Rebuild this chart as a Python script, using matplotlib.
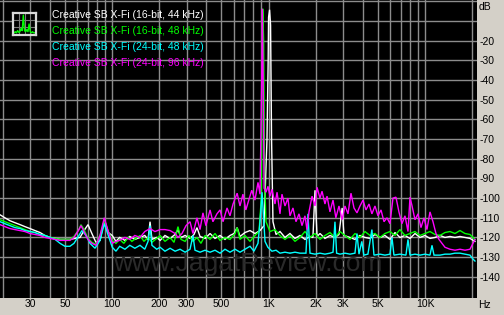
import matplotlib
matplotlib.use("Agg")
import matplotlib.pyplot as plt

# ---------------- data ----------------
series_labels = ["Creative SB X-Fi (16-bit, 44 kHz)",
                 "Creative SB X-Fi (16-bit, 48 kHz)",
                 "Creative SB X-Fi (24-bit, 48 kHz)",
                 "Creative SB X-Fi (24-bit, 96 kHz)"]
series_colors = ["#ffffff", "#00ff00", "#00ffff", "#ff00ff"]

white_f = [19.3, 20.7, 22.3, 24.0, 25.9, 27.8, 30.0, 32.2, 34.7, 37.3, 40.2, 43.3, 46.6, 50.1, 53.9, 58.1,
           62.5, 66.3, 70.3, 74.4, 79.0, 83.9, 89.3, 94.7, 100.4, 106, 112, 121, 130, 140, 151, 162, 170,
           175, 180, 193, 203, 218, 235, 253, 264, 276, 293, 315, 334, 349, 365, 393, 423, 455, 490, 527,
           567, 602, 630, 657, 707, 761, 819, 882, 935, 977, 994, 1000, 1015, 1030, 1045, 1067, 1116, 1183,
           1273, 1370, 1475, 1587, 1708, 1839, 1920, 1979, 2040, 2130, 2292, 2467, 2655, 2816, 2950, 3030,
           3311, 3563, 3835, 4128, 4443, 4782, 5147, 5539, 5962, 6417, 6906, 7433, 8000, 8611, 9268, 9975,
           10736, 11555, 12437, 13386, 14407, 15506, 16689, 17963, 19333, 20808]
white_db = [-108.5, -110, -111.5, -112.5, -113.5, -114.5, -115.5, -116.5, -117.5, -119, -120, -120.5, -121,
            -121, -121, -120.5, -120, -116.5, -113.5, -118, -122.5, -121.5, -111, -117.5, -119, -122, -120,
            -121.5, -119.5, -121, -120, -119, -121, -112, -121, -120, -121.5, -119, -120.5, -118.5, -116,
            -120, -119, -120.5, -118.5, -115, -119.5, -120.5, -118, -120.5, -119, -121, -119, -118, -115,
            -119.5, -117.5, -116.5, -118, -116.5, -114, -70, -30, -8, -4.2, -12, -70, -112, -118.5, -117,
            -120, -118, -120.5, -119, -121, -119.5, -120, -96, -119.5, -118, -120.5, -119, -120, -118.5,
            -105, -119, -120, -121, -119, -120, -120.5, -118.5, -120, -119, -121, -117.5, -120, -119, -120.5,
            -118, -120, -119, -120.5, -120, -119, -120, -119.5, -120, -119.5, -120, -120.5, -122]

green_f = [19.3, 20.7, 22.3, 24.0, 25.9, 27.8, 30.0, 32.2, 34.7, 37.3, 40.2, 43.3, 46.6, 50.1, 53.9, 57.2,
           61.5, 63.4, 66.3, 70.3, 74.4, 79.0, 83.9, 89.3, 94.7, 100.4, 106, 112, 119, 127, 134, 142, 151,
           160, 170, 180, 193, 203, 218, 235, 249, 264, 276, 293, 310, 329, 349, 370, 393, 423, 455, 490,
           527, 567, 611, 630, 657, 707, 761, 819, 869, 899, 913, 918, 930, 943, 963, 1021, 1099, 1183, 1273,
           1370, 1475, 1587, 1708, 1839, 1979, 2130, 2292, 2467, 2655, 2858, 3076, 3311, 3563, 3835, 4128,
           4443, 4782, 5147, 5539, 5962, 6417, 6906, 7433, 8000, 8611, 9268, 9975, 10736, 11555, 12437,
           13386, 14407, 15506, 16689, 17963, 19333, 20200, 20808]
green_db = [-111, -112, -113, -114, -115, -116, -117, -117.5, -118.5, -119, -120, -120.5, -121, -121, -121,
            -119.5, -116, -113.5, -116, -120.5, -122.5, -123.5, -119, -111.5, -117, -121.5, -123, -121,
            -123, -120, -122, -120.5, -119, -122, -120, -122.5, -120.5, -119, -122, -120, -122.5, -114.5,
            -121, -122, -119, -122, -120, -123, -119, -121, -118, -121.5, -120, -121, -118, -115, -121,
            -119, -122, -119, -117, -100, -20, -3.7, -20, -90, -112, -117, -116, -119, -121, -119, -122,
            -120, -117, -120, -118, -121, -119, -117.5, -120, -117, -119, -121, -118, -120, -117, -119,
            -118, -120, -118, -117, -119, -116, -119, -118, -117, -119, -118, -117, -118.5, -119, -117.5,
            -117, -118, -116.5, -118, -118.5, -120, -121]

cyan_f = [19.3, 20.7, 22.3, 24.0, 25.9, 27.8, 30.0, 32.2, 34.7, 37.3, 40.2, 43.3, 46.6, 50.1, 53.9, 57.2,
          61.5, 64.3, 68.2, 72.4, 77.9, 83.9, 89.3, 94.7, 100.4, 106, 112, 121, 130, 140, 151, 162, 170, 175,
          180, 193, 203, 218, 235, 253, 272, 293, 315, 329, 339, 365, 393, 423, 455, 490, 527, 567, 611, 657,
          707, 761, 807, 856, 882, 909, 926, 949, 990, 1051, 1116, 1183, 1273, 1370, 1475, 1587, 1733, 1785,
          1839, 1979, 2130, 2292, 2467, 2580, 2655, 2720, 2858, 3076, 3311, 3563, 3670, 3780, 3940, 4060,
          4310, 4570, 4710, 5147, 5539, 5962, 6140, 6320, 6906, 7540, 7770, 8000, 8611, 9268, 9975, 10736,
          11060, 11390, 12437, 13386, 14407, 15506, 16689, 17963, 19333, 20200, 20808]
cyan_db = [-112, -113, -114, -115, -115.5, -116.5, -117, -117.5, -118.5, -119, -120, -121, -123, -124.5,
           -124.5, -123, -119, -116.5, -119, -123, -125.5, -121.5, -113, -119, -125, -127, -124.5, -126,
           -124, -125.5, -124, -126, -122, -114, -124, -126, -125, -127, -125.5, -127, -126, -127.5, -126,
           -119, -126.5, -127.5, -126.5, -127.5, -126.5, -128, -126, -127.5, -126, -127.5, -126, -124.5,
           -127, -123, -112, -97, -108, -122, -125, -127, -126.5, -128, -127.5, -128, -127.5, -128, -128,
           -108, -128, -128.5, -128, -128.5, -128, -127.5, -112, -128, -128.5, -128, -128.5, -128, -118,
           -128.5, -122, -129, -128.5, -116, -129, -128.5, -129, -128.5, -120, -129, -128.5, -129, -121,
           -129, -128.5, -129, -128.5, -129, -124, -129, -129, -128.5, -128.5, -128, -128, -128.5, -129,
           -131, -132]

magenta_f = [19.3, 20.7, 22.3, 24.0, 25.9, 27.8, 30.0, 32.2, 34.7, 37.3, 40.2, 43.3, 46.6, 50.1, 53.9, 57.2,
             61.5, 63.4, 66.3, 70.3, 74.4, 79.0, 83.9, 89.3, 94.7, 100.4, 106, 112, 121, 130, 140, 151, 162,
             175, 188, 203, 218, 235, 253, 264, 280, 297, 315, 329, 349, 365, 381, 398, 423, 441, 468, 490,
             512, 543, 567, 593, 630, 657, 686, 716, 748, 781, 819, 856, 882, 904, 912, 924, 936, 963, 991,
             1021, 1051, 1099, 1133, 1183, 1218, 1273, 1329, 1370, 1432, 1497, 1564, 1635, 1708, 1759, 1812,
             1895, 1979, 2040, 2130, 2195, 2292, 2363, 2467, 2580, 2690, 2816, 2950, 3076, 3215, 3360, 3512,
             3670, 3835, 4010, 4190, 4380, 4570, 4782, 4997, 5225, 5460, 5705, 5962, 6230, 6510, 6800, 7110,
             7433, 7770, 8000, 8250, 8611, 9000, 9405, 9830, 10270, 10736, 11220, 11720, 12250, 12800,
             13386, 14407, 15506, 16689, 17963, 19333, 20200, 20808]
magenta_db = [-113.5, -114.5, -115.5, -116, -116.5, -117, -118, -118.5, -119, -120, -120.5, -121, -121.5,
              -121.5, -121.5, -120, -116, -114, -117, -121, -123, -124, -119, -110, -117, -123, -122, -121.5,
              -120, -121, -119, -120, -117, -115.5, -117, -116, -116, -116.5, -118, -120, -118, -114, -112,
              -118, -110, -116, -107.5, -114, -106, -112, -108, -106, -112, -105, -109, -103, -97.5, -104,
              -98, -106, -101, -96, -101, -92, -98, -40, -3.7, -40, -95, -97, -94, -99, -95.5, -103, -97,
              -108, -98, -104, -100, -109, -105, -112, -108, -114, -109, -116, -107, -99, -104, -94.5, -100,
              -96.5, -103, -99, -107, -101, -110, -104, -111, -104, -108, -97.5, -105, -107.5, -104, -101,
              -106, -103, -108, -104, -109, -106, -112, -110, -113, -100, -99.5, -107, -113, -109, -117,
              -99.5, -104, -111, -108, -115, -110, -116, -107, -112, -118, -121, -123, -125, -126, -126.5,
              -126, -126.5, -126, -123, -121]

db_ticks = [-20, -30, -40, -50, -60, -70, -80, -90, -100, -110, -120, -130, -140]
hz_ticks = [30, 50, 100, 200, 300, 500, 1000, 2000, 3000, 5000, 10000]
hz_tick_labels = ["30", "50", "100", "200", "300", "500", "1K", "2K", "3K", "5K", "10K"]

icon_x = [0, 1, 2, 3, 4, 5, 6, 7, 8, 9, 10, 11, 12, 13, 14, 15, 16, 17, 18]
icon_y = [1, 1.5, 1, 2, 1.2, 1.5, 3, 2, 9, 2, 1.5, 2.5, 1.5, 5, 1.5, 1, 1.5, 1, 1]

# ---------------- figure ----------------
W, H = 504, 315
fig = plt.figure(figsize=(W / 100, H / 100), dpi=100)
bg = "#d4d0c8"
fig.patch.set_facecolor(bg)
FONT = "Liberation Sans"
FS = 7.5

ax = fig.add_axes([0, (H - 298) / H, 476.7 / W, 298 / H])
ax.set_facecolor("black")
ax.set_xscale("log")
ax.set_xlim(19.27, 21340)
ax.set_ylim(-150.8, 0.76)

grid_c = "#8c8c8c"
for dec in (10, 100, 1000, 10000):
    for m in range(1, 10):
        f = dec * m
        if 19.5 < f < 21000:
            ax.axvline(f, color=grid_c, lw=1.0, zorder=1)
for v in range(0, -150, -10):
    ax.axhline(v, color=grid_c, lw=1.0, zorder=1)

ax.text(0.52, 0.115, "www.JagatReview.com", transform=ax.transAxes, ha="center", va="center",
        fontsize=19, color="#2a2a2a", family=FONT, zorder=2)

for fx, dy, c in [(white_f, white_db, series_colors[0]), (green_f, green_db, series_colors[1]),
                  (cyan_f, cyan_db, series_colors[2]), (magenta_f, magenta_db, series_colors[3])]:
    ax.plot(fx, dy, color=c, lw=1.0, zorder=3, solid_joinstyle="miter")

for s in ax.spines.values():
    s.set_visible(False)

ax.yaxis.tick_right()
ax.set_yticks(db_ticks)
ax.set_yticklabels([str(t) for t in db_ticks], fontsize=FS, family=FONT)
ax.tick_params(axis="y", length=0, pad=2)
ax.set_xticks(hz_ticks)
ax.set_xticklabels(hz_tick_labels, fontsize=FS, family=FONT)
ax.xaxis.set_minor_locator(matplotlib.ticker.NullLocator())
ax.tick_params(axis="x", length=0, pad=1)

fig.text(479 / W, 1 - 7.5 / H, "dB", fontsize=FS, family=FONT, va="center", ha="left")
fig.text(478 / W, 1 - 305.5 / H, "Hz", fontsize=FS, family=FONT, va="center", ha="left")

# legend
for i, (lab, c) in enumerate(zip(series_labels, series_colors)):
    fig.text(52 / W, 1 - (15.5 + 15.9 * i) / H, lab, color=c, fontsize=FS, family=FONT,
             va="center", ha="left")

iax = fig.add_axes([13 / W, 1 - 35 / H, 23 / W, 22 / H])
iax.set_facecolor("black")
iax.plot(icon_x, icon_y, color="#00ff00", lw=1.0)
iax.set_xlim(-1, 19)
iax.set_ylim(0, 10)
for gx in (4.5, 9, 13.5):
    iax.axvline(gx, color="#7a7a7a", lw=0.8, zorder=0)
for gy in (3.5, 7):
    iax.axhline(gy, color="#7a7a7a", lw=0.8, zorder=0)
iax.set_xticks([])
iax.set_yticks([])
for s in iax.spines.values():
    s.set_color("#d8d8d8")
    s.set_linewidth(1.6)

fig.savefig("out.png", dpi=100, facecolor=bg)
